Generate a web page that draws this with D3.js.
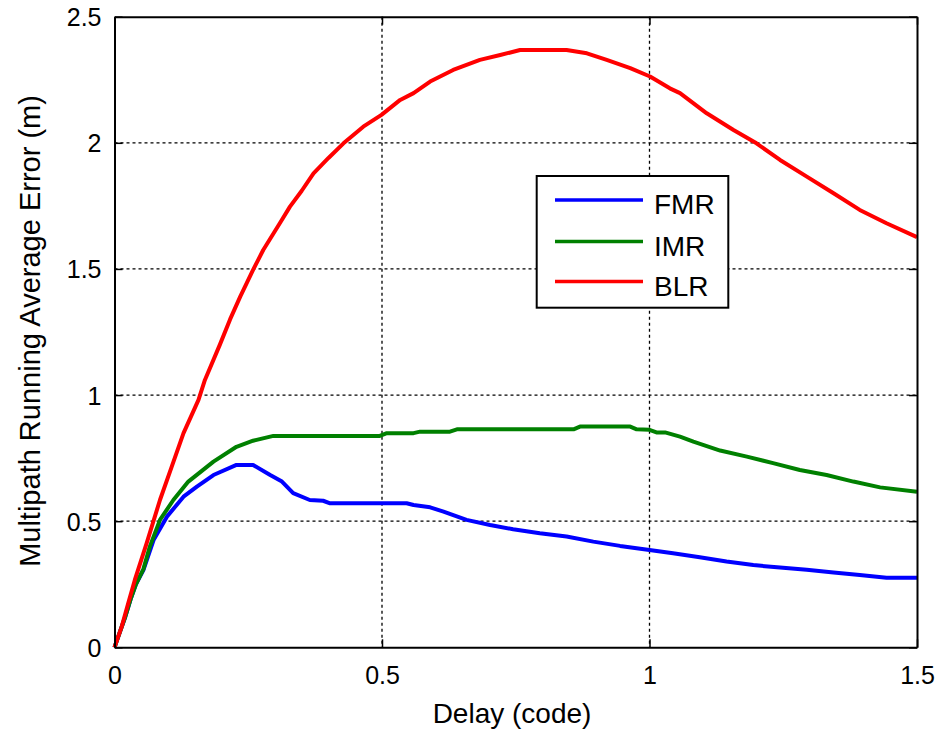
<!DOCTYPE html>
<html>
<head>
<meta charset="utf-8">
<script src="https://cdn.jsdelivr.net/npm/d3@7"></script>
<style>
  body { margin: 0; background: #fff; }
  text { font-family: Arial, "Liberation Sans", sans-serif; fill: #000; }
</style>
</head>
<body>
<svg id="chart" width="940" height="729"></svg>
<script>
// ---- data ----
const xTicks = [0, 0.5, 1, 1.5];
const yTicks = [0, 0.5, 1, 1.5, 2, 2.5];
const xTickLabels = ["0", "0.5", "1", "1.5"];
const yTickLabels = ["0", "0.5", "1", "1.5", "2", "2.5"];
const seriesNames = ["FMR", "IMR", "BLR"];
const seriesColors = ["#0000ff", "#008000", "#ff0000"];

const fmrX = [0, 0.01, 0.02, 0.03, 0.04, 0.054, 0.073, 0.098, 0.129, 0.154, 0.185, 0.228, 0.259, 0.291, 0.313, 0.334, 0.365, 0.390, 0.403, 0.546, 0.559, 0.590, 0.615, 0.658, 0.702, 0.745, 0.795, 0.845, 0.895, 0.945, 1.0, 1.044, 1.094, 1.144, 1.194, 1.244, 1.294, 1.344, 1.393, 1.443, 1.5];
const fmrY = [0, 0.06, 0.12, 0.19, 0.25, 0.306, 0.425, 0.518, 0.597, 0.637, 0.683, 0.723, 0.723, 0.683, 0.657, 0.611, 0.584, 0.581, 0.571, 0.571, 0.564, 0.555, 0.538, 0.505, 0.485, 0.468, 0.452, 0.439, 0.419, 0.402, 0.386, 0.373, 0.357, 0.340, 0.326, 0.316, 0.307, 0.297, 0.287, 0.276, 0.276];

const imrX = [0, 0.01, 0.02, 0.03, 0.04, 0.054, 0.066, 0.085, 0.110, 0.138, 0.185, 0.228, 0.259, 0.297, 0.496, 0.509, 0.559, 0.571, 0.627, 0.640, 0.858, 0.870, 0.964, 0.976, 1.0, 1.013, 1.029, 1.057, 1.082, 1.132, 1.182, 1.231, 1.281, 1.331, 1.381, 1.431, 1.5];
const imrY = [0, 0.06, 0.12, 0.19, 0.25, 0.31, 0.399, 0.505, 0.584, 0.657, 0.736, 0.795, 0.819, 0.838, 0.838, 0.849, 0.849, 0.855, 0.855, 0.864, 0.864, 0.875, 0.875, 0.864, 0.862, 0.852, 0.852, 0.835, 0.815, 0.780, 0.756, 0.730, 0.703, 0.683, 0.657, 0.634, 0.617];

const blrX = [0, 0.0135, 0.025, 0.038, 0.06, 0.085, 0.107, 0.129, 0.157, 0.169, 0.197, 0.216, 0.235, 0.259, 0.278, 0.309, 0.328, 0.350, 0.372, 0.40, 0.428, 0.465, 0.499, 0.534, 0.559, 0.590, 0.633, 0.683, 0.721, 0.758, 0.845, 0.883, 0.920, 0.964, 1.001, 1.038, 1.057, 1.107, 1.157, 1.200, 1.244, 1.294, 1.344, 1.393, 1.443, 1.5];
const blrY = [0, 0.082, 0.17, 0.267, 0.412, 0.584, 0.716, 0.849, 0.981, 1.06, 1.20, 1.30, 1.39, 1.496, 1.575, 1.681, 1.747, 1.81, 1.879, 1.94, 1.998, 2.064, 2.111, 2.170, 2.197, 2.243, 2.289, 2.329, 2.348, 2.368, 2.368, 2.355, 2.329, 2.296, 2.263, 2.216, 2.197, 2.117, 2.051, 1.998, 1.932, 1.866, 1.800, 1.734, 1.681, 1.626];

const series = [
  { name: seriesNames[0], color: seriesColors[0], xs: fmrX, ys: fmrY },
  { name: seriesNames[1], color: seriesColors[1], xs: imrX, ys: imrY },
  { name: seriesNames[2], color: seriesColors[2], xs: blrX, ys: blrY }
];

// ---- layout ----
const L = 114.5, R = 917, T = 16.7, B = 647.3;
const svg = d3.select("#chart");
const x = d3.scaleLinear().domain([0, 1.5]).range([L, R]);
const y = d3.scaleLinear().domain([0, 2.5]).range([B, T]);

// grid
const grid = svg.append("g");
grid.selectAll(".gx").data(xTicks.slice(1, -1)).join("line")
  .attr("x1", d => x(d)).attr("x2", d => x(d)).attr("y1", T).attr("y2", B)
  .attr("stroke", "#000").attr("stroke-width", 1.3).attr("stroke-dasharray", "3,3");
grid.selectAll(".gy").data(yTicks.slice(1, -1)).join("line")
  .attr("y1", d => y(d)).attr("y2", d => y(d)).attr("x1", L).attr("x2", R)
  .attr("stroke", "#000").attr("stroke-width", 1.3).attr("stroke-dasharray", "3,3");

// data lines
const line = d3.line().x(d => x(d[0])).y(d => y(d[1]));
svg.append("g").selectAll("path").data(series).join("path")
  .attr("d", s => line(s.xs.map((v, i) => [v, s.ys[i]])))
  .attr("fill", "none").attr("stroke", s => s.color)
  .attr("stroke-width", 4).attr("stroke-linejoin", "round");

// axes with inward ticks
const tickFont = "25px";
const xAxis = d3.axisBottom(x).tickValues(xTicks).tickFormat((d, i) => xTickLabels[i]).tickSizeInner(-8).tickSizeOuter(0);
const yAxis = d3.axisLeft(y).tickValues(yTicks).tickFormat((d, i) => yTickLabels[i]).tickSizeInner(-8).tickSizeOuter(0);
const gx = svg.append("g").attr("transform", `translate(0,${B})`).call(xAxis);
const gy = svg.append("g").attr("transform", `translate(${L},0)`).call(yAxis);
const gxt = svg.append("g").attr("transform", `translate(0,${T})`).call(d3.axisTop(x).tickValues(xTicks).tickFormat("").tickSizeInner(-8).tickSizeOuter(0));
const gyr = svg.append("g").attr("transform", `translate(${R},0)`).call(d3.axisRight(y).tickValues(yTicks).tickFormat("").tickSizeInner(-8).tickSizeOuter(0));
[gx, gy, gxt, gyr].forEach(g => {
  g.select(".domain").attr("stroke", "#000").attr("stroke-width", 2);
  g.selectAll(".tick line").attr("stroke", "#000").attr("stroke-width", 1.5);
  g.selectAll(".tick text").attr("font-size", tickFont).attr("font-family", "Arial, 'Liberation Sans', sans-serif").attr("fill", "#000");
});
gx.selectAll(".tick text").attr("dy", null).attr("y", 36.5);
gy.selectAll(".tick text").attr("x", -13).attr("dy", "0.36em");

// axis titles
svg.append("text").attr("x", 512).attr("y", 723).attr("text-anchor", "middle")
  .attr("font-size", "28px").text("Delay (code)");
svg.append("text").attr("transform", "translate(40,331) rotate(-90)").attr("text-anchor", "middle")
  .attr("font-size", "29px").text("Multipath Running Average Error (m)");

// legend
const lg = svg.append("g");
lg.append("rect").attr("x", 536.7).attr("y", 176).attr("width", 191.6).attr("height", 131.7)
  .attr("fill", "#fff").attr("stroke", "#000").attr("stroke-width", 2);
const rowY = [200, 241.5, 281.5];
series.forEach((s, i) => {
  lg.append("line").attr("x1", 555).attr("x2", 643).attr("y1", rowY[i]).attr("y2", rowY[i])
    .attr("stroke", s.color).attr("stroke-width", 3.4);
  lg.append("text").attr("x", 654).attr("y", rowY[i] + 14)
    .attr("font-size", "28px").text(s.name);
});
</script>
</body>
</html>
